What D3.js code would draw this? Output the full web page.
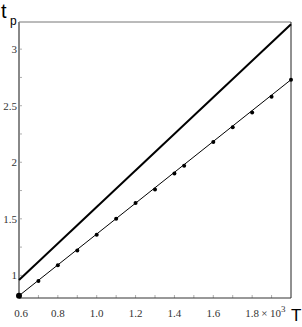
<!DOCTYPE html>
<html>
<head>
<meta charset="utf-8">
<script src="https://d3js.org/d3.v7.min.js"></script>
<style>
  body { margin: 0; background: #fff; }
  text { font-family: "Liberation Serif", "DejaVu Serif", serif; }
</style>
</head>
<body>
<svg width="302" height="327"></svg>
<script>
// measured points (T in 10^3, t_p)
const T = [0.6, 0.7, 0.8, 0.9, 1.0, 1.1, 1.2, 1.3, 1.4, 1.45, 1.6, 1.7, 1.8, 1.9, 2.0];
const tp = [0.82, 0.95, 1.09, 1.22, 1.36, 1.50, 1.64, 1.76, 1.90, 1.97, 2.18, 2.31, 2.44, 2.58, 2.73];
// fitted line and upper line endpoints
const fitT = [0.6, 2.0];
const fitTp = [0.82, 2.73];
const upperT = [0.6, 2.0];
const upperTp = [0.96, 3.22];
const xTicks = [0.6, 0.8, 1.0, 1.2, 1.4, 1.6, 1.8];
const xTickLabels = ["0.6", "0.8", "1.0", "1.2", "1.4", "1.6", "1.8"];
const yTicks = [1, 1.5, 2, 2.5, 3];
const yTickLabels = ["1", "1.5", "2", "2.5", "3"];

const svg = d3.select("svg");
const mLeft = 19, mTop = 22, mRight = 291, mBottom = 298;

const x = d3.scaleLinear().domain([0.6, 2.0]).range([mLeft, mRight]);
const y = d3.scaleLinear().domain([0.8, 3.24]).range([mBottom, mTop]);

// frame
svg.append("line").attr("x1", mLeft).attr("x2", mRight).attr("y1", mTop).attr("y2", mTop)
  .attr("stroke", "#777").attr("stroke-width", 1);
svg.append("line").attr("x1", mRight).attr("x2", mRight).attr("y1", mTop).attr("y2", mBottom)
  .attr("stroke", "#222").attr("stroke-width", 1);

// minor ticks
const yMinor = d3.range(1, 3.01, 0.25);
svg.selectAll(".ym").data(yMinor).enter().append("line")
  .attr("x1", mLeft).attr("x2", mLeft + 3)
  .attr("y1", d => y(d)).attr("y2", d => y(d))
  .attr("stroke", "#999").attr("stroke-width", 0.8);
const xMinor = d3.range(0.7, 1.95, 0.1);
svg.selectAll(".xm").data(xMinor).enter().append("line")
  .attr("x1", d => x(d)).attr("x2", d => x(d))
  .attr("y1", mBottom).attr("y2", mBottom - 3)
  .attr("stroke", "#999").attr("stroke-width", 0.8);

// axes lines
svg.append("line").attr("x1", mLeft).attr("x2", mLeft).attr("y1", mTop).attr("y2", mBottom)
  .attr("stroke", "#888").attr("stroke-width", 2);
svg.append("line").attr("x1", mLeft).attr("x2", mRight).attr("y1", mBottom).attr("y2", mBottom)
  .attr("stroke", "#333").attr("stroke-width", 1);

// tick labels
svg.selectAll(".yl").data(yTicks).enter().append("text")
  .attr("x", mLeft - 2).attr("y", d => y(d) + 4)
  .attr("text-anchor", "end").attr("font-size", 11).attr("fill", "#333")
  .text((d, i) => yTickLabels[i]);
svg.selectAll(".xl").data(xTicks).enter().append("text")
  .attr("x", d => x(d) + (d === 0.6 ? 2 : 0)).attr("y", 317)
  .attr("text-anchor", "middle").attr("font-size", 11).attr("fill", "#333")
  .text((d, i) => xTickLabels[i]);
svg.append("text").attr("x", x(1.8) + 9).attr("y", 317)
  .attr("font-size", 11).attr("fill", "#333")
  .html("× 10<tspan dy='-5' font-size='9'>3</tspan>");

// lines
const line = d3.line().x(d => x(d[0])).y(d => y(d[1]));
svg.append("path").datum(upperT.map((t, i) => [t, upperTp[i]]))
  .attr("d", line).attr("stroke", "#000").attr("stroke-width", 2).attr("fill", "none");
svg.append("path").datum(fitT.map((t, i) => [t, fitTp[i]]))
  .attr("d", line).attr("stroke", "#000").attr("stroke-width", 1).attr("fill", "none");

// points
svg.selectAll(".pt").data(T).enter().append("circle")
  .attr("cx", d => x(d)).attr("cy", (d, i) => y(tp[i]))
  .attr("r", (d, i) => i === 0 ? 3 : 2).attr("fill", "#000");

// axis titles
svg.append("text").attr("x", 1).attr("y", 18)
  .style("font-family", "'Liberation Sans', Arial, sans-serif").attr("font-size", 20)
  .text("t");
svg.append("text").attr("x", 10).attr("y", 25)
  .style("font-family", "'Liberation Sans', Arial, sans-serif").attr("font-size", 12)
  .text("p");
svg.append("text").attr("x", 291).attr("y", 321)
  .style("font-family", "'Liberation Sans', Arial, sans-serif").attr("font-size", 17)
  .text("T");
</script>
</body>
</html>
